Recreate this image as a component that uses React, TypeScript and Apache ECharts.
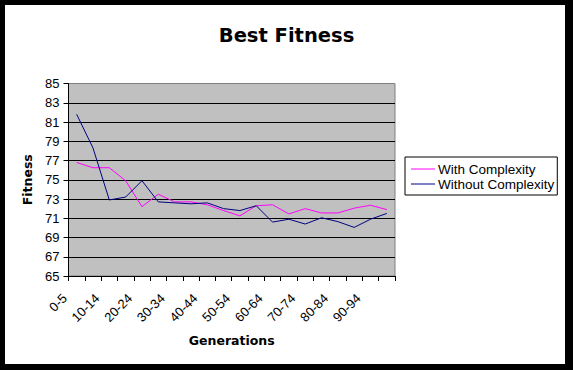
import React, { useEffect, useRef } from "react";
import * as echarts from "echarts";

const categories = [
  "0-5", "5-9", "10-14", "15-19", "20-24", "25-29", "30-34", "35-39", "40-44", "45-49",
  "50-54", "55-59", "60-64", "65-69", "70-74", "75-79", "80-84", "85-89", "90-94", "95-99",
];
const withComplexity = [
  76.8, 76.25, 76.25, 74.9, 72.2, 73.5, 72.7, 72.7, 72.4, 71.8,
  71.25, 72.3, 72.4, 71.45, 72.0, 71.55, 71.55, 72.05, 72.35, 71.9,
];
const withoutComplexity = [
  81.8, 78.3, 72.9, 73.2, 74.9, 72.7, 72.6, 72.5, 72.6, 72.0,
  71.8, 72.3, 70.6, 70.9, 70.4, 71.05, 70.65, 70.05, 70.9, 71.5,
];
const yMin = 65;
const yMax = 85;
const yStep = 2;

export default function App() {
  const ref = useRef<HTMLDivElement>(null);
  useEffect(() => {
    document.body.style.margin = "0";
    if (!ref.current) return;
    const chart = echarts.init(ref.current, undefined, { renderer: "svg" });
    const font = "Arial, 'Liberation Sans', sans-serif";
    const boldFont = "'DejaVu Sans', Arial, sans-serif";
    const splitColors: string[] = [];
    for (let v = yMin; v <= yMax; v += yStep) splitColors.push(v === yMax ? "#808080" : "#000000");
    chart.setOption({
      animation: false,
      backgroundColor: "#000000",
      textStyle: { fontFamily: font },
      graphic: [
        {
          type: "rect",
          z: -10,
          silent: true,
          shape: { x: 5, y: 5, width: 560, height: 359 },
          style: { fill: "#ffffff" },
        },
      ],
      title: {
        text: "Best Fitness",
        left: "center",
        top: 20,
        textStyle: { fontFamily: boldFont, fontWeight: "bold", fontSize: 19.5, color: "#000" },
      },
      legend: {
        orient: "vertical",
        left: 405,
        top: 157,
        backgroundColor: "#ffffff",
        borderColor: "#000000",
        borderWidth: 1,
        padding: [5, 3, 4, 6],
        itemGap: 1,
        itemWidth: 24,
        itemHeight: 1,
        icon: "rect",
        textStyle: { fontFamily: font, fontSize: 13.5, color: "#000", padding: [0, 0, 0, -2] },
        data: ["With Complexity", "Without Complexity"],
      },
      grid: {
        left: 68.5,
        top: 83.5,
        right: 178,
        bottom: 94,
        show: true,
        backgroundColor: "#C0C0C0",
        borderColor: "#808080",
        borderWidth: 1,
        outerBoundsMode: "none",
      },
      xAxis: {
        type: "category",
        data: categories,
        boundaryGap: true,
        name: "Generations",
        nameLocation: "middle",
        nameGap: 58,
        nameTextStyle: { fontFamily: boldFont, fontWeight: "bold", fontSize: 12.5, color: "#000" },
        axisLine: { show: true, lineStyle: { color: "#000", width: 1 } },
        axisTick: { show: true, interval: 0, length: 5, lineStyle: { color: "#000" } },
        axisLabel: {
          interval: 1,
          rotate: 45,
          margin: 8,
          padding: [0, 17, 0, 0],
          fontFamily: font,
          fontSize: 13,
          color: "#000",
        },
        splitLine: { show: false },
      },
      yAxis: {
        type: "value",
        min: yMin,
        max: yMax,
        interval: yStep,
        name: "Fitness",
        nameLocation: "middle",
        nameGap: 35,
        nameRotate: 90,
        nameTextStyle: { fontFamily: boldFont, fontWeight: "bold", fontSize: 12.5, color: "#000" },
        axisLine: { show: true, lineStyle: { color: "#000", width: 1 } },
        axisTick: { show: true, length: 5, lineStyle: { color: "#000" } },
        axisLabel: { margin: 9, fontFamily: font, fontSize: 13, color: "#000" },
        splitLine: { show: true, lineStyle: { color: splitColors, width: 1 } },
      },
      series: [
        {
          name: "With Complexity",
          type: "line",
          data: withComplexity,
          symbol: "none",
          showSymbol: false,
          lineStyle: { color: "#FF00FF", width: 1 },
          itemStyle: { color: "#FF00FF" },
        },
        {
          name: "Without Complexity",
          type: "line",
          data: withoutComplexity,
          symbol: "none",
          showSymbol: false,
          lineStyle: { color: "#000080", width: 1 },
          itemStyle: { color: "#000080" },
        },
      ],
    });
    return () => chart.dispose();
  }, []);
  return <div ref={ref} style={{ width: 573, height: 370 }} />;
}
